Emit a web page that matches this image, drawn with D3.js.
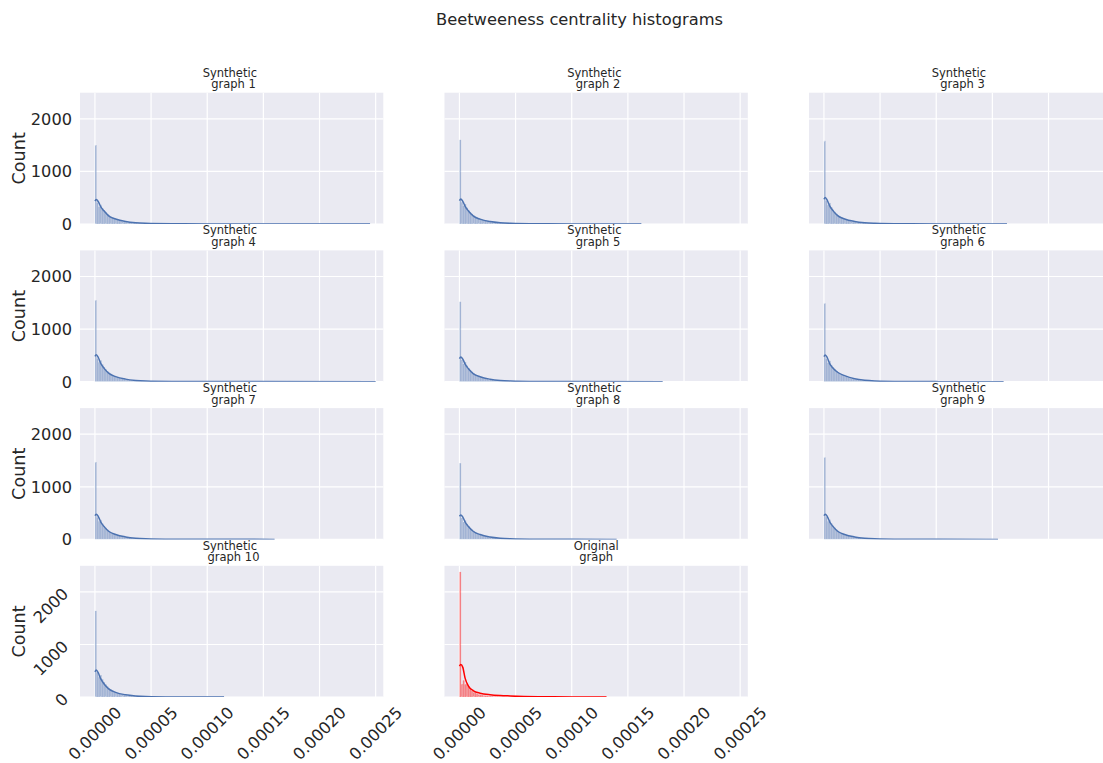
<!DOCTYPE html>
<html>
<head>
<meta charset="utf-8">
<script src="https://cdn.jsdelivr.net/npm/d3@7"></script>
<style>
body { margin: 0; background: #fff; }
svg { display: block; }
text { font-family: "DejaVu Sans", sans-serif; fill: #262626; }
</style>
</head>
<body>
<svg id="svg" width="1103" height="763"></svg>
<script>
// subplot titles (row by row, 3 columns)
const titles = [
    'Synthetic \n graph 1', 'Synthetic \n graph 2', 'Synthetic \n graph 3',
    'Synthetic \n graph 4', 'Synthetic \n graph 5', 'Synthetic \n graph 6',
    'Synthetic \n graph 7', 'Synthetic \n graph 8', 'Synthetic \n graph 9',
    'Synthetic \n graph 10', 'Original\ngraph'
];
const colors = ['#4C72B0', '#4C72B0', '#4C72B0', '#4C72B0', '#4C72B0', '#4C72B0',
                '#4C72B0', '#4C72B0', '#4C72B0', '#4C72B0', '#FF0000'];

// fine histogram bins near zero (counts per bin)
const binWidth = 0.0000015;
const headCounts = [
    [1500, 410, 330, 365, 300, 258, 222, 190, 163, 141, 122, 106, 92, 80, 70, 62, 54, 47, 41, 36, 32, 28, 25, 22, 19, 17, 15, 13, 12, 11],
    [1600, 420, 350, 380, 310, 262, 224, 192, 165, 142, 123, 107, 93, 81, 71, 62, 54, 47, 41, 36, 32, 28, 25, 22, 19, 17, 15, 13, 12, 11],
    [1580, 440, 360, 400, 320, 270, 230, 196, 168, 145, 125, 108, 94, 82, 72, 63, 55, 48, 42, 37, 32, 28, 25, 22, 19, 17, 15, 13, 12, 11],
    [1550, 445, 370, 405, 330, 278, 236, 200, 171, 147, 127, 110, 96, 84, 73, 64, 56, 49, 43, 38, 33, 29, 26, 23, 20, 18, 16, 14, 12, 11],
    [1520, 420, 340, 375, 305, 260, 222, 190, 163, 141, 122, 106, 92, 80, 70, 61, 53, 46, 40, 35, 31, 27, 24, 21, 18, 16, 14, 13, 12, 11],
    [1490, 440, 360, 395, 320, 272, 236, 206, 182, 162, 144, 127, 110, 94, 80, 68, 58, 50, 43, 37, 32, 28, 25, 22, 19, 17, 15, 13, 12, 11],
    [1470, 420, 345, 370, 300, 256, 220, 188, 161, 139, 120, 104, 90, 78, 68, 60, 52, 45, 39, 34, 30, 26, 23, 20, 18, 16, 14, 12, 11, 10],
    [1450, 410, 330, 360, 296, 252, 216, 186, 160, 138, 120, 104, 90, 78, 68, 60, 52, 45, 39, 34, 30, 26, 23, 20, 18, 16, 14, 12, 11, 10],
    [1560, 425, 345, 375, 305, 260, 222, 190, 163, 141, 122, 106, 92, 80, 70, 61, 53, 46, 40, 35, 31, 27, 24, 21, 18, 16, 14, 13, 12, 11],
    [1640, 470, 380, 420, 340, 285, 240, 202, 170, 145, 124, 106, 91, 78, 67, 58, 50, 43, 37, 32, 28, 24, 21, 18, 16, 14, 12, 11, 10, 9],
    [2380, 250, 320, 245, 262, 205, 152, 120, 96, 80, 66, 55, 46, 40, 34, 29, 25, 22, 19, 17, 15, 13, 12, 11, 10, 9, 8, 7, 6, 6]
];

// long tail, average count per fine bin in steps of 0.00001
const tailStep = 0.00001;
const tailCounts = [
    [8, 6, 4.5, 3.5, 2.8, 2.2, 1.8, 1.5, 1.3, 1.1, 1, 0.9, 0.8, 0.7, 0.6, 0.5, 0.5, 0.4, 0.4, 0.3],
    [8, 6, 4.5, 3.5, 2.7, 2.1, 1.7, 1.4, 1.1, 0.9, 0.7, 0.5],
    [8.5, 6.2, 4.6, 3.5, 2.7, 2.1, 1.7, 1.4, 1.1, 0.9, 0.7, 0.5],
    [9, 6.5, 4.8, 3.7, 2.9, 2.3, 1.9, 1.6, 1.3, 1.1, 1, 0.9, 0.8, 0.7, 0.6, 0.5, 0.5, 0.4, 0.4, 0.3, 0.3],
    [8, 6, 4.4, 3.4, 2.6, 2, 1.6, 1.3, 1.1, 0.9, 0.8, 0.7, 0.6, 0.5],
    [8.5, 6.3, 4.7, 3.6, 2.8, 2.2, 1.7, 1.4, 1.1, 0.9, 0.7, 0.5],
    [7.5, 5.6, 4.2, 3.2, 2.5, 2, 1.6, 1.3, 1.1, 0.9, 0.7, 0.5],
    [7.5, 5.5, 4.1, 3.1, 2.4, 1.9, 1.5, 1.2, 0.9, 0.7],
    [8, 5.9, 4.4, 3.3, 2.6, 2, 1.6, 1.3, 1, 0.8, 0.6],
    [7, 5, 3.6, 2.6, 1.9, 1.3, 0.8],
    [5, 3.5, 2.5, 2, 1.5, 1.2, 1, 0.8, 0.6]
];
const maxValues = [0.000245, 0.000162, 0.000163, 0.000250, 0.000181, 0.000160,
                   0.000160, 0.000140, 0.000155, 0.000115, 0.000131];

// kde curve read at these x positions
const kdeX = [0, 0.0000012, 0.000003, 0.0000051, 0.000008, 0.0000125, 0.0000184, 0.0000273, 0.0000363, 0.0000452, 0.00007, 0.0001];
const kdeY = [
    [437, 465, 424, 330, 250, 150, 95, 48, 24, 14, 5, 2],
    [445, 475, 430, 335, 248, 150, 92, 46, 23, 13, 4, 1.5],
    [470, 505, 450, 345, 255, 155, 95, 48, 24, 14, 4, 1.5],
    [480, 510, 460, 350, 258, 157, 97, 49, 25, 14, 5, 2],
    [440, 470, 428, 332, 246, 150, 93, 47, 23, 13, 4, 1.5],
    [478, 508, 455, 345, 262, 175, 115, 55, 26, 14, 4, 1.5],
    [450, 480, 435, 335, 248, 150, 93, 47, 23, 13, 4, 1.5],
    [440, 465, 425, 330, 245, 150, 92, 46, 23, 13, 4, 1.5],
    [450, 480, 435, 335, 248, 150, 93, 47, 23, 13, 4, 1.5],
    [481, 513, 460, 350, 255, 152, 90, 44, 22, 12, 3, 1],
    [590, 618, 565, 355, 210, 120, 75, 45, 30, 22, 8, 3]
];

const xTicks = [0, 0.00005, 0.0001, 0.00015, 0.0002, 0.00025];
const yTicks = [0, 1000, 2000];
const xDomain = [-0.0000133, 0.0002568];
const yDomain = [0, 2496];

const svg = d3.select('#svg');
const panel = {w: 303.3, h: 131.3};
const colX = [80, 444.5, 809];
const rowY = [92.7, 250.4, 408.1, 565.8];
const tickSize = 16.2;

const xScale = d3.scaleLinear().domain(xDomain).range([0, panel.w]);
const yScale = d3.scaleLinear().domain(yDomain).range([panel.h, 0]);
const fmt = d3.format('.5f');

svg.append('text')
    .attr('x', 579.5)
    .attr('y', 25)
    .attr('text-anchor', 'middle')
    .style('font-size', '16.3px')
    .text('Beetweeness centrality histograms');

const line = d3.line()
    .x(function(d) { return xScale(d[0]); })
    .y(function(d) { return yScale(d[1]); })
    .curve(d3.curveMonotoneX);

titles.forEach(function(title, i) {
    const r = Math.floor(i / 3), c = i % 3;
    const g = svg.append('g')
        .attr('transform', 'translate(' + colX[c] + ',' + rowY[r] + ')');

    g.append('rect')
        .attr('width', panel.w)
        .attr('height', panel.h)
        .attr('fill', '#EAEAF2');

    g.selectAll('.gx').data(xTicks).enter().append('line')
        .attr('x1', function(d) { return xScale(d); })
        .attr('x2', function(d) { return xScale(d); })
        .attr('y1', 0).attr('y2', panel.h)
        .attr('stroke', '#fff').attr('stroke-width', 1.2);
    g.selectAll('.gy').data(yTicks).enter().append('line')
        .attr('x1', 0).attr('x2', panel.w)
        .attr('y1', function(d) { return yScale(d); })
        .attr('y2', function(d) { return yScale(d); })
        .attr('stroke', '#fff').attr('stroke-width', 1.2);

    const clipId = 'clip' + i;
    g.append('clipPath').attr('id', clipId)
        .append('rect').attr('width', panel.w).attr('height', panel.h);
    const plot = g.append('g').attr('clip-path', 'url(#' + clipId + ')');

    const headEnd = headCounts[i].length * binWidth;
    const bins = headCounts[i].map(function(v, k) {
        return {x0: k * binWidth, x1: (k + 1) * binWidth, v: v};
    }).concat(tailCounts[i].map(function(v, k) {
        const x0 = headEnd + k * tailStep;
        return {x0: x0, x1: Math.min(x0 + tailStep, maxValues[i]), v: v};
    }));

    plot.selectAll('rect.bar').data(bins).enter().append('rect')
        .attr('class', 'bar')
        .attr('x', function(d) { return xScale(d.x0); })
        .attr('width', function(d) { return xScale(d.x1) - xScale(d.x0); })
        .attr('y', function(d) { return yScale(d.v); })
        .attr('height', function(d) { return panel.h - yScale(d.v); })
        .attr('fill', colors[i])
        .attr('fill-opacity', 0.45)
        .attr('stroke', '#fff')
        .attr('stroke-opacity', 0.35)
        .attr('stroke-width', 0.25);

    const kdePts = kdeX.map(function(x, k) { return [x, kdeY[i][k]]; });
    kdePts.push([maxValues[i], 0.4]);
    plot.append('path')
        .attr('d', line(kdePts))
        .attr('fill', 'none')
        .attr('stroke', colors[i])
        .attr('stroke-width', 1.5);

    // subplot title
    const lines = title.split('\n');
    const tt = g.append('text')
        .attr('text-anchor', 'middle')
        .style('font-size', '11.5px')
        .style('white-space', 'pre');
    lines.forEach(function(s, k) {
        tt.append('tspan')
            .attr('x', panel.w / 2)
            .attr('y', k === 0 ? -16 : -4.4)
            .text(s);
    });

    if (c === 0) {
        g.append('text')
            .attr('transform', 'translate(-55,' + (panel.h / 2) + ') rotate(-90)')
            .attr('text-anchor', 'middle')
            .style('font-size', '17.6px')
            .text('Count');
        yTicks.forEach(function(t) {
            if (r < 3) {
                g.append('text')
                    .attr('x', -8)
                    .attr('y', yScale(t) + 0.36 * tickSize)
                    .attr('text-anchor', 'end')
                    .style('font-size', tickSize + 'px')
                    .text(t);
            } else {
                const lg = g.append('g');
                const tx = lg.append('text')
                    .attr('text-anchor', 'middle')
                    .attr('y', 0.346 * tickSize)
                    .style('font-size', tickSize + 'px')
                    .text(t);
                const w = tx.node().getComputedTextLength();
                const bw = (w + 1.164 * tickSize) * 0.7071;
                lg.attr('transform', 'translate(' + (-8 - bw / 2) + ',' + (yScale(t) - 7.5 + bw / 2) + ') rotate(-45)');
            }
        });
    }

    if (r === 3) {
        xTicks.forEach(function(t) {
            const lg = g.append('g');
            const tx = lg.append('text')
                .attr('text-anchor', 'middle')
                .attr('y', 0.346 * tickSize)
                .style('font-size', tickSize + 'px')
                .text(fmt(t));
            const w = tx.node().getComputedTextLength();
            const bh = (w + 1.164 * tickSize) * 0.7071;
            lg.attr('transform', 'translate(' + xScale(t) + ',' + (panel.h + 6 + bh / 2) + ') rotate(-45)');
        });
    }
});
</script>
</body>
</html>
